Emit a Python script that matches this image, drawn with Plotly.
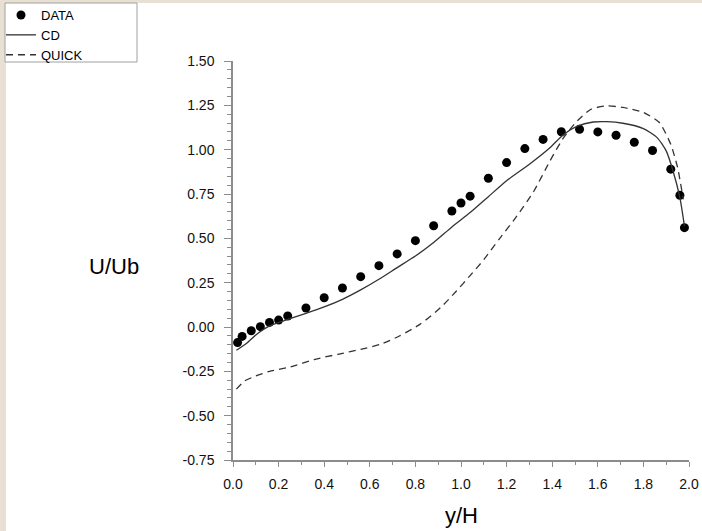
import plotly.graph_objects as go

# ---- data ----
data_x = [0.02, 0.04, 0.08, 0.12, 0.16, 0.20, 0.24, 0.32, 0.40, 0.48, 0.56, 0.64, 0.72, 0.80,
          0.88, 0.96, 1.00, 1.04, 1.12, 1.20, 1.28, 1.36, 1.44, 1.52, 1.60, 1.68, 1.76, 1.84,
          1.92, 1.96, 1.98]
data_y = [-0.088, -0.053, -0.021, 0.002, 0.026, 0.039, 0.062, 0.107, 0.165, 0.220, 0.284, 0.346,
          0.412, 0.487, 0.571, 0.654, 0.699, 0.738, 0.839, 0.927, 1.006, 1.058, 1.101, 1.115,
          1.100, 1.081, 1.042, 0.995, 0.890, 0.743, 0.560]

cd_x = [0.015, 0.06, 0.10, 0.16, 0.24, 0.32, 0.40, 0.48, 0.56, 0.64, 0.72, 0.80, 0.88, 0.96,
        1.04, 1.12, 1.20, 1.30, 1.39, 1.45, 1.51, 1.58, 1.64, 1.71, 1.80, 1.86, 1.90, 1.93,
        1.96, 1.98]
cd_y = [-0.131, -0.092, -0.045, 0.006, 0.043, 0.077, 0.113, 0.156, 0.209, 0.269, 0.335, 0.400,
        0.476, 0.564, 0.645, 0.735, 0.825, 0.918, 1.011, 1.086, 1.133, 1.156, 1.158, 1.149,
        1.119, 1.068, 0.993, 0.880, 0.730, 0.570]

quick_x = [0.015, 0.05, 0.10, 0.16, 0.25, 0.36, 0.46, 0.56, 0.645, 0.73, 0.82, 0.91, 0.98, 1.04,
           1.10, 1.17, 1.24, 1.32, 1.39, 1.45, 1.51, 1.57, 1.64, 1.71, 1.80, 1.87, 1.92, 1.95,
           1.975]
quick_y = [-0.35, -0.305, -0.276, -0.25, -0.226, -0.182, -0.154, -0.126, -0.098, -0.051, 0.015,
           0.109, 0.203, 0.29, 0.38, 0.50, 0.617, 0.767, 0.936, 1.068, 1.162, 1.228, 1.247,
           1.238, 1.210, 1.153, 1.030, 0.899, 0.72]

x_ticks = [0.0, 0.2, 0.4, 0.6, 0.8, 1.0, 1.2, 1.4, 1.6, 1.8, 2.0]
y_ticks = [-0.75, -0.50, -0.25, 0.00, 0.25, 0.50, 0.75, 1.00, 1.25, 1.50]

# ---- layout geometry ----
W, H = 702, 531
ML, MR, MT, MB = 233, 13, 61, 71
PW, PH = W - ML - MR, H - MT - MB
FONT = "Liberation Sans, Arial, Helvetica, sans-serif"
AX = "#8c8c8c"
BEIGE = "#e8e0d3"


def px2x(px):
    return (px - ML) / PW


def py2y(py):
    return (H - MB - py) / PH


fig = go.Figure()
fig.add_trace(go.Scatter(x=data_x, y=data_y, mode="markers", name="DATA",
                         marker=dict(color="black", size=9)))
fig.add_trace(go.Scatter(x=cd_x, y=cd_y, mode="lines", name="CD",
                         line=dict(color="#333333", width=1.3, shape="spline", smoothing=0.6)))
fig.add_trace(go.Scatter(x=quick_x, y=quick_y, mode="lines", name="QUICK",
                         line=dict(color="#333333", width=1.3, dash="7px,5px",
                                   shape="spline", smoothing=0.6)))

fig.update_layout(
    width=W, height=H, autosize=False,
    margin=dict(l=ML, r=MR, t=MT, b=MB, pad=0, autoexpand=False),
    paper_bgcolor="white", plot_bgcolor="white",
    font=dict(family=FONT, color="black", size=12),
    showlegend=True,
    legend=dict(xref="container", yref="container", x=1 / W, y=1.0,
                xanchor="left", yanchor="top",
                bgcolor="rgba(0,0,0,0)", borderwidth=0,
                font=dict(size=13, family=FONT), itemwidth=30, tracegroupgap=0),
    xaxis=dict(range=[0, 2], tickvals=x_ticks, ticktext=[f"{v:.1f}" for v in x_ticks],
               showgrid=False, zeroline=False, showline=True, linecolor=AX, linewidth=1.5,
               ticks="outside", ticklen=5, tickcolor=AX, tickwidth=1, automargin=False,
               minor=dict(ticks="outside", dtick=0.1, ticklen=3, tickcolor=AX, showgrid=False),
               tickfont=dict(size=14, color="#111"), ticklabelstandoff=5),
    yaxis=dict(range=[-0.75, 1.5], tickvals=y_ticks, ticktext=[f"{v:.2f}" for v in y_ticks],
               showgrid=False, zeroline=False, showline=True, linecolor=AX, linewidth=1.5,
               ticks="outside", ticklen=7, tickcolor=AX, tickwidth=1, automargin=False,
               minor=dict(ticks="outside", dtick=0.05, ticklen=4, tickcolor=AX, showgrid=False),
               tickfont=dict(size=14, color="#111"), ticklabelstandoff=7),
    shapes=[
        dict(type="rect", xref="paper", yref="paper", x0=px2x(0), x1=px2x(W),
             y0=py2y(3), y1=py2y(0), fillcolor=BEIGE, line=dict(width=0), layer="below"),
        dict(type="rect", xref="paper", yref="paper", x0=px2x(0), x1=px2x(6),
             y0=py2y(H), y1=py2y(0), fillcolor=BEIGE, line=dict(width=0), layer="below"),
        dict(type="rect", xref="paper", yref="paper", x0=px2x(5), x1=px2x(137),
             y0=py2y(62), y1=py2y(3), fillcolor="white",
             line=dict(width=1, color="#a0a0a0"), layer="below"),
    ],
    annotations=[
        dict(text="U/Ub", xref="paper", yref="paper", x=px2x(114), y=py2y(266),
             xanchor="center", yanchor="middle", showarrow=False, font=dict(size=22)),
        dict(text="y/H", xref="paper", yref="paper", x=px2x(461), y=py2y(515),
             xanchor="center", yanchor="middle", showarrow=False, font=dict(size=22)),
    ],
)

fig.write_html("out.html", config={"displayModeBar": False},
               post_script="document.body.style.margin='0';")
